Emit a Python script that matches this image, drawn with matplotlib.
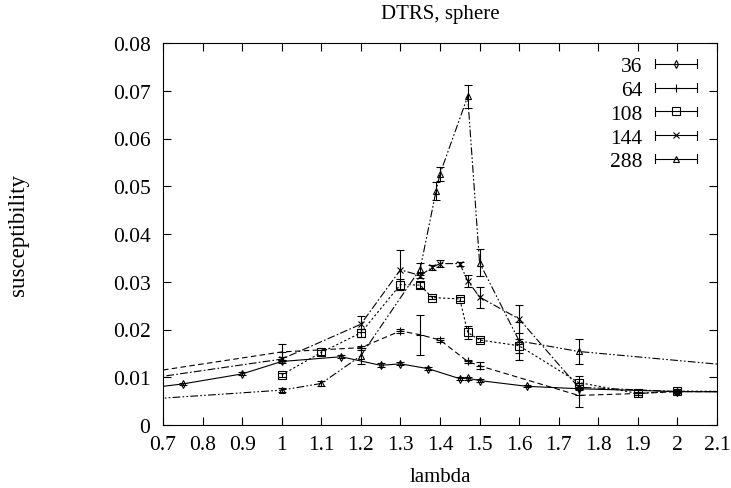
import matplotlib
matplotlib.use("Agg")
import matplotlib.pyplot as plt
from matplotlib.lines import Line2D
from matplotlib.legend_handler import HandlerBase
import numpy as np

# susceptibility vs lambda for each lattice size (points beyond the frame are clipped)
lam36 = [0.6, 0.75, 0.9, 1.0, 1.15, 1.25, 1.3, 1.37, 1.45, 1.47, 1.5, 1.62, 1.75, 2.0, 2.2]
chi36 = [0.0071, 0.0086, 0.0107, 0.0133, 0.0143, 0.0125, 0.0128, 0.0118, 0.0097, 0.0098,
         0.0093, 0.0081, 0.0076, 0.0070, 0.0069]
err36 = [0.0002, 0.0003, 0.0003, 0.0003, 0.0003, 0.0004, 0.0003, 0.0003, 0.0003, 0.0003,
         0.0003, 0.0002, 0.0002, 0.0002, 0.0002]

lam64 = [0.5, 1.0, 1.2, 1.3, 1.35, 1.4, 1.47, 1.5, 1.75, 1.9, 2.0, 2.2]
chi64 = [0.0090, 0.0153, 0.0162, 0.0197, 0.0189, 0.0178, 0.0133, 0.0124, 0.0062, 0.0066,
         0.0070, 0.0070]
err64 = [0.0003, 0.0017, 0.0004, 0.0004, 0.0042, 0.0004, 0.0003, 0.0007, 0.0025, 0.0003,
         0.0003, 0.0003]

lam108 = [1.0, 1.1, 1.2, 1.3, 1.35, 1.38, 1.45, 1.47, 1.5, 1.6, 1.75, 1.9, 2.0, 2.2]
chi108 = [0.0105, 0.0152, 0.0193, 0.0294, 0.0293, 0.0267, 0.0264, 0.0194, 0.0178, 0.0166,
          0.0089, 0.0066, 0.0071, 0.0070]
err108 = [0.0004, 0.0005, 0.0008, 0.0012, 0.0006, 0.0004, 0.0004, 0.0013, 0.0004, 0.0015,
          0.0013, 0.0004, 0.0004, 0.0003]

lam144 = [0.5, 1.0, 1.2, 1.3, 1.35, 1.38, 1.4, 1.45, 1.47, 1.5, 1.6, 1.75, 2.0, 2.2]
chi144 = [0.0078, 0.0138, 0.0211, 0.0325, 0.0313, 0.0330, 0.0338, 0.0338, 0.0302, 0.0268,
          0.0222, 0.0079, 0.0070, 0.0070]
err144 = [0.0003, 0.0004, 0.0017, 0.0042, 0.0005, 0.0005, 0.0008, 0.0004, 0.0012, 0.0022,
          0.0030, 0.0004, 0.0003, 0.0003]

lam288 = [0.5, 1.0, 1.1, 1.2, 1.35, 1.39, 1.4, 1.47, 1.5, 1.6, 1.75, 2.2]
chi288 = [0.0045, 0.0073, 0.0087, 0.0145, 0.0327, 0.0490, 0.0526, 0.0688, 0.0340, 0.0176,
          0.0154, 0.0120]
err288 = [0.0003, 0.0004, 0.0006, 0.0017, 0.0012, 0.0018, 0.0014, 0.0025, 0.0028, 0.0040,
          0.0026, 0.0005]

sizes = ["36", "64", "108", "144", "288"]
xticks = [0.7, 0.8, 0.9, 1, 1.1, 1.2, 1.3, 1.4, 1.5, 1.6, 1.7, 1.8, 1.9, 2, 2.1]
yticks = [0, 0.01, 0.02, 0.03, 0.04, 0.05, 0.06, 0.07, 0.08]

series = [(lam36, chi36, err36), (lam64, chi64, err64), (lam108, chi108, err108),
          (lam144, chi144, err144), (lam288, chi288, err288)]
markers = ["d", "+", "s", "x", "^"]
msizes = [4, 6, 5.5, 5, 5]
dashes = ["-", (0, (5, 3)), (0, (2, 2)), (0, (7, 2, 1.5, 2)), (0, (7, 2, 1.5, 2, 1.5, 2))]

plt.rcParams["font.family"] = ["Liberation Serif", "DejaVu Serif"]
plt.rcParams["font.size"] = 15.5

fig = plt.figure(figsize=(7.31, 4.89), dpi=100)
ax = fig.add_axes([163 / 731, 1 - 426 / 489, 554 / 731, 382 / 489])

for (x, y, e), m, ms, ls in zip(series, markers, msizes, dashes):
    ax.plot(x, y, color="k", lw=0.8, linestyle=ls)
    ax.errorbar(x, y, yerr=e, fmt=m, ms=ms, mfc="none", mec="k", mew=0.8,
                ecolor="k", elinewidth=0.8, capsize=3, capthick=0.8)

ax.set_xlim(0.7, 2.1)
ax.set_ylim(0, 0.08)
ax.set_xticks(xticks)
ax.set_xticklabels(["%g" % t for t in xticks])
ax.set_yticks(yticks)
ax.set_yticklabels(["%g" % t for t in yticks])
ax.tick_params(direction="in", length=6, width=0.8, top=True, right=True)
ax.tick_params(axis="x", pad=7)
ax.tick_params(axis="y", pad=9)
for s in ax.spines.values():
    s.set_linewidth(0.8)

ax.set_title("DTRS, sphere", y=1.065, pad=0, fontsize=15)
ax.set_xlabel("lambda", fontsize=15)
ax.xaxis.set_label_coords(0.5, -0.11)
ax.set_ylabel("susceptibility", fontsize=16.5)
ax.yaxis.set_label_coords(-0.242, 0.5)


class ErrHandler(HandlerBase):
    # horizontal error-bar sample with the point marker in the middle
    def create_artists(self, legend, orig_handle, xdescent, ydescent, width, height,
                       fontsize, trans):
        y = height / 2 - ydescent
        x0, x1 = -xdescent, width - xdescent
        c = 0.3 * height
        arts = [Line2D([x0, x1], [y, y], color="k", lw=0.8),
                Line2D([x0, x0], [y - c, y + c], color="k", lw=0.8),
                Line2D([x1, x1], [y - c, y + c], color="k", lw=0.8),
                Line2D([(x0 + x1) / 2], [y], marker=orig_handle.get_marker(),
                       ms=orig_handle.get_markersize(), mfc="none", mec="k", mew=0.8, lw=0)]
        for a in arts:
            a.set_transform(trans)
        return arts


handles = [Line2D([], [], marker=m, ms=ms) for m, ms in zip(markers, msizes)]
ax.legend(handles, sizes, handler_map={Line2D: ErrHandler()}, loc="upper right",
          bbox_to_anchor=(0.964, 0.965), borderaxespad=0, borderpad=0, frameon=False,
          markerfirst=False, handlelength=1.95, handletextpad=0.6, labelspacing=0.17)

fig.savefig("out.png", dpi=100)
